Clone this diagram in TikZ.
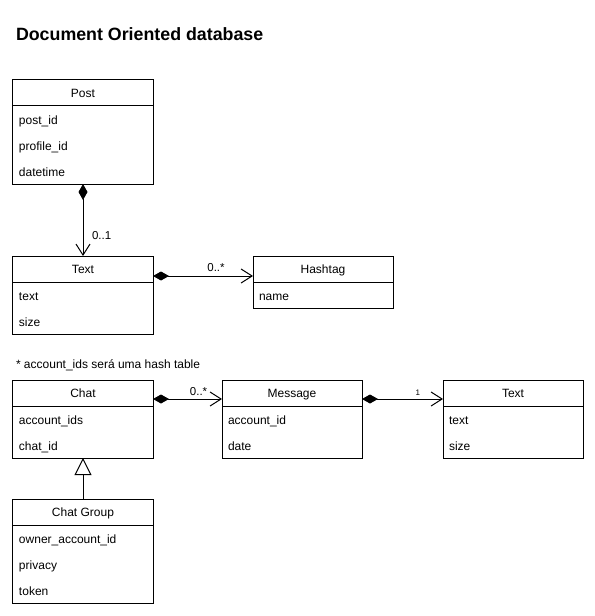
\documentclass[tikz,border=0pt]{standalone}
\usepackage{fontspec}
\setmainfont{Liberation Sans}
\usetikzlibrary{positioning,arrows.meta}

\begin{document}
\begin{tikzpicture}[
    x=1bp, y=-1bp,
    every node/.style={outer sep=0pt},
    classhead/.style={draw, line width=1bp, minimum width=140bp, minimum height=26bp, inner sep=0pt, text height=8.6bp, text depth=0pt, font=\fontsize{12bp}{14bp}\selectfont},
    classattr/.style={draw, line width=1bp, text width=128bp, inner xsep=6bp, inner ysep=0pt, align=left, font=\fontsize{12bp}{26bp}\selectfont},
    comp/.style={draw, line width=1bp, {Diamond[length=16bp,width=9bp]}-{Straight Barb[length=11bp,width=14bp]}},
    inherit/.style={draw, line width=1bp, -{Triangle[open,length=17bp,width=17bp]}},
    mult/.style={inner sep=1bp, font=\fontsize{11.5bp}{13bp}\selectfont}
]
\useasboundingbox (0,0) rectangle (595,616);

\node[anchor=west, inner sep=0pt, font=\fontsize{17.8bp}{20bp}\selectfont\bfseries] (title) at (16,34) {Document Oriented database};

% posts
\node[classhead] (post) at (83,93) {Post};
\node[classattr, below=0pt of post] (postattr) {\strut post\_id\\\strut profile\_id\\\strut datetime};

\node[classhead] (text) at (83,269) {Text};
\node[classattr, below=0pt of text] (textattr) {\strut text\\\strut size};

\node[classhead] (hashtag) at (323,269) {Hashtag};
\node[classattr, below=0pt of hashtag] (hashtagattr) {\strut name};

\draw[comp] (postattr.south) -- node[mult, pos=0.71, right=8bp] (postmult) {0..1} (text.north);
\draw[comp] ([yshift=-7bp]text.east) -- node[mult, pos=0.63, above=3bp] (textmult) {0..*} ([yshift=-7bp]hashtag.west);

% chats
\node[anchor=west, inner sep=0pt, font=\fontsize{12bp}{14bp}\selectfont] (note) at (16,365) {* account\_ids será uma hash table};

\node[classhead] (chat) at (83,393) {Chat};
\node[classattr, below=0pt of chat] (chatattr) {\strut account\_ids\\\strut chat\_id};

\node[classhead] (message) at (292,393) {Message};
\node[classattr, below=0pt of message] (messageattr) {\strut account\_id\\\strut date};

\node[classhead] (msgtext) at (513,393) {Text};
\node[classattr, below=0pt of msgtext] (msgtextattr) {\strut text\\\strut size};

\node[classhead] (chatgroup) at (83,512) {Chat Group};
\node[classattr, below=0pt of chatgroup] (chatgroupattr) {\strut owner\_account\_id\\\strut privacy\\\strut token};

\draw[comp] ([yshift=-6bp]chat.east) -- node[mult, pos=0.66, above=2bp] (chatmult) {0..*} ([yshift=-6bp]message.west);
\draw[comp] ([yshift=-6bp]message.east) -- node[mult, pos=0.69, above=3bp, font=\fontsize{8bp}{10bp}\selectfont] (msgmult) {1} ([yshift=-6bp]msgtext.west);
\draw[inherit] (chatgroup.north) -- (chatattr.south);
\end{tikzpicture}
\end{document}
